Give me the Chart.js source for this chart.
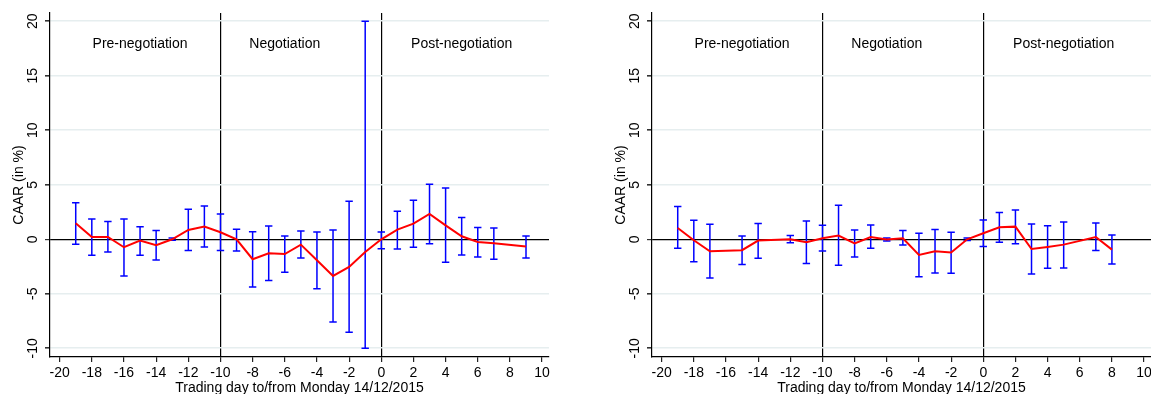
<!DOCTYPE html>
<html><head><meta charset="utf-8">
<script src="https://cdn.jsdelivr.net/npm/chart.js@4.4.1/dist/chart.umd.min.js"></script>
<style>
html,body{margin:0;padding:0;background:#fff;overflow:hidden;width:1151px;height:394px;position:relative;}
.p{position:absolute;top:0;height:394px;overflow:hidden;}
</style></head><body>
<div class="p" style="left:0;width:600px"><canvas id="c1" width="580" height="394"></canvas></div>
<div class="p" style="left:602px;width:549px"><canvas id="c2" width="580" height="394"></canvas></div>
<script>
// ---- data ----
const xTicks = [-20,-18,-16,-14,-12,-10,-8,-6,-4,-2,0,2,4,6,8,10];
const yTicks = [-10,-5,0,5,10,15,20];
const phaseLabels = ["Pre-negotiation","Negotiation","Post-negotiation"];
const phaseX = [-15,-6,5];
const phaseY = 17.9;
const phaseBounds = [-10,0];

const leftDays  = [-19,-18,-17,-16,-15,-14,-13,-12,-11,-10,-9,-8,-7,-6,-5,-4,-3,-2,-1,0,1,2,3,4,5,6,7,9];
const leftMean  = [1.47,0.21,0.21,-0.73,-0.12,-0.55,0,0.86,1.16,0.64,0,-1.83,-1.28,-1.35,-0.49,-1.93,-3.36,-2.54,-1.16,0,0.89,1.44,2.32,1.28,0.28,-0.24,-0.37,-0.67];
const leftUpper = [3.36,1.87,1.62,1.87,1.16,0.8,0.12,2.75,3.06,2.32,0.92,0.7,1.22,0.31,0.76,0.67,0.86,3.49,20.0,0.67,2.57,3.58,5.05,4.71,1.99,1.07,1.04,0.31];
const leftLower = [-0.46,-1.47,-1.16,-3.36,-1.47,-1.9,-0.09,-1.04,-0.7,-1.04,-1.07,-4.37,-3.79,-3.03,-1.71,-4.53,-7.6,-8.53,-10.0,-0.86,-0.89,-0.73,-0.4,-2.11,-1.44,-1.62,-1.83,-1.71];

const rightDays  = [-19,-18,-17,-15,-14,-12,-11,-10,-9,-8,-7,-6,-5,-4,-3,-2,-1,0,1,2,3,4,5,7,8];
const rightMean  = [1.04,-0.09,-1.1,-1.0,-0.12,0,-0.28,0.09,0.34,-0.37,0.21,-0.03,0.09,-1.44,-1.1,-1.22,0,0.55,1.1,1.16,-0.89,-0.7,-0.49,0.21,-0.95];
const rightUpper = [3.0,1.74,1.38,0.31,1.44,0.34,1.68,1.28,3.12,0.86,1.31,0.12,0.8,0.55,0.89,0.64,0.12,1.77,2.45,2.69,1.41,1.25,1.59,1.5,0.4];
const rightLower = [-0.83,-2.05,-3.55,-2.32,-1.74,-0.31,-2.23,-1.07,-2.39,-1.62,-0.83,-0.15,-0.52,-3.43,-3.09,-3.12,-0.12,-0.67,-0.28,-0.4,-3.18,-2.66,-2.63,-1.04,-2.26];

const xTitle = "Trading day to/from Monday 14/12/2015";
const yTitle = "CAAR (in %)";

// ---- drawing ----
const FONT = "'Liberation Sans', Arial, Helvetica, sans-serif";

function makeChart(id, days, mean, upper, lower) {
  const decor = {
    id: 'decor',
    beforeDatasetsDraw(chart) {
      const {ctx, scales: {x, y}} = chart;
      ctx.save();
      ctx.strokeStyle = '#0000ff';
      ctx.lineWidth = 1.5;
      days.forEach((d, i) => {
        const px = x.getPixelForValue(d);
        const t = y.getPixelForValue(upper[i]);
        const b = y.getPixelForValue(lower[i]);
        ctx.beginPath();
        ctx.moveTo(px, t); ctx.lineTo(px, b);
        ctx.moveTo(px - 3.7, t); ctx.lineTo(px + 3.7, t);
        ctx.moveTo(px - 3.7, b); ctx.lineTo(px + 3.7, b);
        ctx.stroke();
      });
      ctx.restore();
    },
    afterDraw(chart) {
      const {ctx, scales: {x, y}} = chart;
      ctx.save();
      ctx.fillStyle = '#000';
      ctx.font = '14px ' + FONT;
      ctx.textAlign = 'center';
      ctx.textBaseline = 'middle';
      yTicks.forEach(v => {
        const py = y.getPixelForValue(v);
        ctx.save();
        ctx.translate(33, py);
        ctx.rotate(-Math.PI / 2);
        ctx.fillText(String(v), 0, 0);
        ctx.restore();
      });
      phaseLabels.forEach((t, i) => {
        ctx.fillText(t, x.getPixelForValue(phaseX[i]), y.getPixelForValue(phaseY));
      });
      ctx.restore();
    }
  };

  return new Chart(document.getElementById(id), {
    type: 'line',
    data: {
      datasets: [{
        data: days.map((d, i) => ({x: d, y: mean[i]})),
        borderColor: '#ff0000',
        borderWidth: 2,
        pointRadius: 0,
        tension: 0,
        fill: false
      }]
    },
    options: {
      responsive: false,
      animation: false,
      events: [],
      layout: {padding: {top: 13, right: 31, left: 0, bottom: 0}},
      plugins: {legend: {display: false}, tooltip: {enabled: false}},
      scales: {
        x: {
          type: 'linear',
          min: -20.6, max: 10.43,
          afterBuildTicks: s => { s.ticks = xTicks.map(v => ({value: v})); },
          afterFit: s => { s.height = 37; },
          ticks: {font: {family: FONT, size: 14}, color: '#000', padding: 3, maxRotation: 0, autoSkip: false},
          grid: {
            color: c => (c.tick && phaseBounds.includes(c.tick.value)) ? '#000' : 'rgba(0,0,0,0)',
            lineWidth: 1.2,
            tickColor: '#222',
            tickLength: 5,
            drawOnChartArea: true
          },
          border: {color: '#000', width: 1.2},
          title: {display: true, text: xTitle, font: {family: FONT, size: 14, lineHeight: 1}, color: '#000', padding: {top: 0, bottom: -1}}
        },
        y: {
          type: 'linear',
          min: -10.8, max: 20.76,
          afterBuildTicks: s => { s.ticks = yTicks.map(v => ({value: v})); },
          afterFit: s => { s.width = 50; },
          ticks: {display: false},
          grid: {
            color: c => (c.tick && c.tick.value === 0) ? '#000' : '#e6eeef',
            lineWidth: c => (c.tick && c.tick.value === 0) ? 1.2 : 1.6,
            tickColor: '#333',
            tickLength: 5
          },
          border: {color: '#000', width: 1.2},
          title: {display: true, text: yTitle, font: {family: FONT, size: 14}, color: '#000', padding: {top: 11, bottom: 0}}
        }
      }
    },
    plugins: [decor]
  });
}

makeChart('c1', leftDays, leftMean, leftUpper, leftLower);
makeChart('c2', rightDays, rightMean, rightUpper, rightLower);
</script>
</body></html>
